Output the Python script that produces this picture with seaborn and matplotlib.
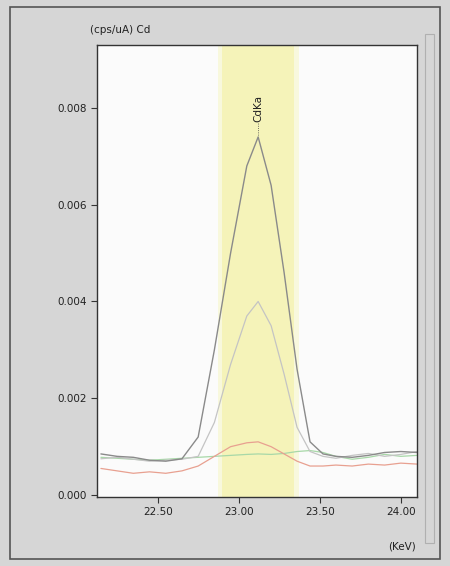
import numpy as np
import pandas as pd
import matplotlib
matplotlib.use('Agg')
import matplotlib.pyplot as plt
import seaborn as sns
from matplotlib.patches import Rectangle

# Energy axis (keV) and spectra.
energy = [22.15, 22.25, 22.35, 22.45, 22.55, 22.65, 22.75, 22.85, 22.95, 23.05,
          23.12, 23.20, 23.28, 23.36, 23.44, 23.52, 23.60, 23.70, 23.80, 23.90,
          24.00, 24.10]
spec_main = [0.00085, 0.00080, 0.00078, 0.00072, 0.00070, 0.00075, 0.00120, 0.00300,
             0.00500, 0.00680, 0.00740, 0.00640, 0.00460, 0.00260, 0.00110, 0.00085,
             0.00080, 0.00078, 0.00082, 0.00088, 0.00090, 0.00088]
spec_mid = [0.00075, 0.00078, 0.00074, 0.00070, 0.00072, 0.00074, 0.00080, 0.00150,
            0.00270, 0.00370, 0.00400, 0.00350, 0.00250, 0.00140, 0.00090, 0.00080,
            0.00076, 0.00082, 0.00086, 0.00080, 0.00084, 0.00090]
spec_low = [0.00055, 0.00050, 0.00045, 0.00048, 0.00045, 0.00050, 0.00060, 0.00080,
            0.00100, 0.00108, 0.00110, 0.00100, 0.00085, 0.00070, 0.00060, 0.00060,
            0.00062, 0.00060, 0.00064, 0.00062, 0.00066, 0.00064]
spec_green = [0.00078, 0.00076, 0.00074, 0.00072, 0.00074, 0.00076, 0.00078, 0.00080,
              0.00082, 0.00084, 0.00085, 0.00084, 0.00086, 0.00090, 0.00092, 0.00088,
              0.00080, 0.00074, 0.00078, 0.00084, 0.00080, 0.00082]

x_ticks = [22.50, 23.00, 23.50, 24.00]
y_ticks = [0.000, 0.002, 0.004, 0.006, 0.008]
roi = (22.90, 23.34)
peak_name = 'CdKa'
peak_energy = 23.12

sns.set_theme(style='white')
plt.rcParams['font.family'] = ['DejaVu Sans']

fig = plt.figure(figsize=(4.5, 5.66), dpi=100)
fig.patch.set_facecolor('#d6d6d6')

# window frame lines
fig.add_artist(Rectangle((0.022, 0.012), 0.955, 0.976, transform=fig.transFigure,
                         fill=False, edgecolor='#555555', lw=1.2))
fig.add_artist(Rectangle((0.945, 0.04), 0.02, 0.90, transform=fig.transFigure,
                         fill=False, edgecolor='#b0b0b0', lw=0.8))

ax = fig.add_axes([0.2156, 0.1219, 0.7111, 0.7986])
ax.set_facecolor('#fbfbfb')

# soft yellow region of interest
ax.axvspan(roi[0] - 0.03, roi[1] + 0.03, color='#f7f7c0', alpha=0.5, lw=0)
ax.axvspan(roi[0], roi[1], color='#f5f2b0', alpha=0.8, lw=0)

df = pd.DataFrame({'energy': energy, 'main': spec_main, 'mid': spec_mid,
                   'low': spec_low, 'green': spec_green})

sns.lineplot(data=df, x='energy', y='green', ax=ax, color='#a8d8a8', lw=0.9)
sns.lineplot(data=df, x='energy', y='low', ax=ax, color='#e8a090', lw=0.9)
sns.lineplot(data=df, x='energy', y='mid', ax=ax, color='#c4c4c4', lw=0.9)
sns.lineplot(data=df, x='energy', y='main', ax=ax, color='#8a8a8a', lw=1.0)

ax.text(peak_energy, 0.0077, peak_name, rotation=90, ha='center', va='bottom',
        fontsize=7.5, color='#222222')
ax.plot([peak_energy, peak_energy], [0.00745, 0.00768], color='#444444', lw=0.6, ls=':')

ax.set_xlim(22.126, 24.10)
ax.set_ylim(-0.00004, 0.0093)
ax.set_xticks(x_ticks)
ax.set_xticklabels([f'{v:.2f}' for v in x_ticks])
ax.set_yticks(y_ticks)
ax.set_yticklabels([f'{v:.3f}' for v in y_ticks])
ax.tick_params(axis='both', direction='out', length=4, width=0.8, color='#333333',
               labelsize=7.5, labelcolor='#222222', bottom=True, left=True)
ax.set_xlabel('')
ax.set_ylabel('')
for s in ax.spines.values():
    s.set_color('#333333')
    s.set_linewidth(1.0)

fig.text(0.200, 0.938, '(cps/uA) Cd', fontsize=7.5, color='#222222', ha='left', va='bottom')
fig.text(0.893, 0.035, '(KeV)', fontsize=7.5, color='#222222', ha='center', va='center')

fig.savefig('out.png', dpi=100, facecolor=fig.get_facecolor())
